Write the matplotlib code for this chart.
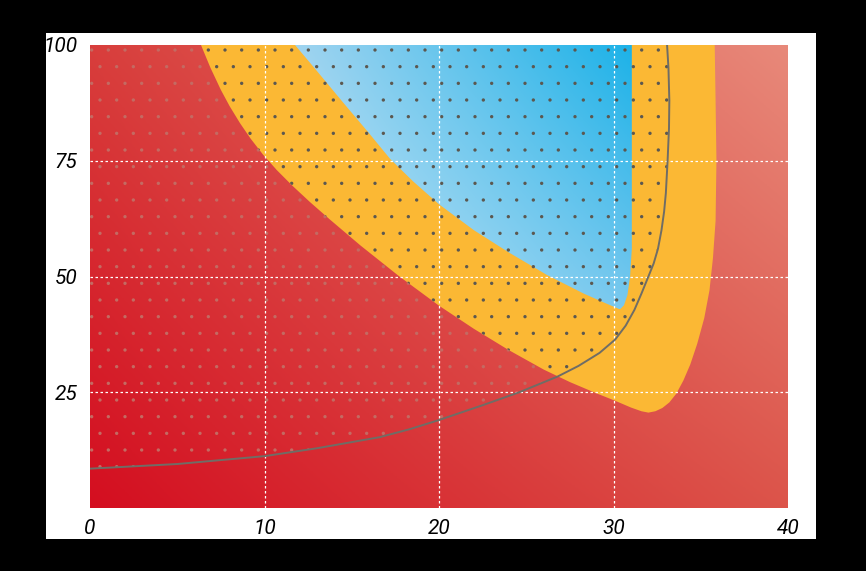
import numpy as np
import matplotlib
matplotlib.use('Agg')
import matplotlib.pyplot as plt
from matplotlib.patches import Polygon, Rectangle

# 黄色区域边界 (x, y)
yellow_x = [6.36, 6.9, 7.5, 8.0, 8.6, 9.2, 9.9, 10.7, 11.6, 12.6, 13.75, 15.5, 17.7, 20.0, 22.0,
            24.0, 26.0, 27.5, 29.0, 30.1, 31.0, 31.6, 32.0, 32.4, 32.8, 33.2, 33.6, 34.0, 34.4,
            34.8, 35.2, 35.5, 35.7, 35.85, 35.9, 35.85, 35.8]
yellow_y = [100, 95.1, 90.3, 86.8, 83.1, 79.8, 76.4, 73.0, 69.6, 66.1, 62.3, 56.7, 50.1, 43.7, 38.7,
            34.1, 29.9, 27.2, 24.8, 23.15, 21.7, 20.9, 20.6, 20.9, 21.6, 22.8, 24.7, 27.5, 31.0,
            35.5, 41.0, 47.0, 54.0, 62.0, 75.0, 88.0, 100]

# 蓝色区域边界
blue_x = [11.75, 13.0, 14.5, 16.0, 17.2, 18.5, 20.0, 22.0, 24.0, 26.2, 28.3, 29.5, 30.37,
          30.6, 30.8, 30.95, 31.05, 31.05]
blue_y = [100, 94.4, 87.6, 80.9, 75.4, 70.6, 65.6, 60.0, 55.2, 50.3, 46.3, 44.3, 42.9,
          43.8, 46.0, 50.0, 56.0, 100]

# 灰色曲线
curve_x = [0, 5, 10, 13, 16.6, 18.3, 20, 22.5, 24.6, 26.8, 28.0, 29.2, 30.1, 30.7, 31.2, 31.6,
           32.0, 32.3, 32.55, 32.75, 32.9, 33.0, 33.1, 33.18, 33.2, 33.15, 33.07]
curve_y = [8.5, 9.5, 11.2, 12.9, 15.3, 17.0, 19.0, 22.2, 25.0, 28.4, 30.7, 33.5, 36.4, 39.4, 42.8,
           46.3, 50.0, 52.8, 56.0, 60.0, 64.0, 68.0, 75.0, 82.0, 88.0, 95.0, 100]

xticks = [0, 10, 20, 30, 40]
yticks = [25, 50, 75, 100]

fig = plt.figure(figsize=(8.66, 5.71), dpi=100, facecolor='black')
fig.patches.append(Rectangle((46 / 866, 32 / 571), 770 / 866, 506 / 571,
                             transform=fig.transFigure, facecolor='white', edgecolor='none', zorder=-10))
ax = fig.add_axes([90 / 866, 63 / 571, 698 / 866, 463 / 571])


def gradient(bl, tl, br, tr, n=200):
    u = np.linspace(0, 1, n)[None, :, None]
    v = np.linspace(0, 1, n)[:, None, None]
    bl, tl, br, tr = [np.array(c, float)[None, None, :] / 255 for c in (bl, tl, br, tr)]
    img = (1 - u) * (1 - v) * bl + (1 - u) * v * tl + u * (1 - v) * br + u * v * tr
    return np.clip(img, 0, 1)


# 红色渐变背景
red = gradient((212, 14, 32), (216, 62, 60), (220, 84, 74), (232, 137, 122))
ax.imshow(red, extent=[0, 40, 0, 100], origin='lower', aspect='auto', zorder=1)

plt.rcParams['hatch.linewidth'] = 0.0
dot_xy = np.column_stack([curve_x + [0], curve_y + [100]])
# 红色区域里的浅色点
ax.add_patch(Polygon(dot_xy, closed=True, facecolor='none', edgecolor='#c46a62',
                     linewidth=0, hatch='.', zorder=1.5))

yellow = Polygon(np.column_stack([yellow_x, yellow_y]), closed=True,
                 facecolor='#fbb834', edgecolor='none', zorder=2)
ax.add_patch(yellow)

blue_poly = Polygon(np.column_stack([blue_x, blue_y]), closed=True,
                    facecolor='none', edgecolor='none', zorder=3)
ax.add_patch(blue_poly)
blue = gradient((205, 232, 247), (160, 212, 240), (120, 200, 238), (28, 178, 232))
im = ax.imshow(blue, extent=[min(blue_x), max(blue_x), min(blue_y), 100],
               origin='lower', aspect='auto', zorder=3)
im.set_clip_path(blue_poly)

# 黄色/蓝色区域里的深色点
dark = Polygon(dot_xy, closed=True, facecolor='none', edgecolor='#5c5850',
               linewidth=0, hatch='.', zorder=4)
ax.add_patch(dark)
dark.set_clip_path(yellow)

ax.plot(curve_x, curve_y, color='#6f6d66', lw=1.4, zorder=6)

ax.set_xlim(0, 40)
ax.set_ylim(0, 100)
ax.set_xticks(xticks)
ax.set_yticks(yticks)
for v in [10, 20, 30]:
    ax.axvline(v, color='white', lw=0.9, ls=(0, (2, 2)), zorder=5)
for v in [25, 50, 75]:
    ax.axhline(v, color='white', lw=0.9, ls=(0, (2, 2)), zorder=5)
for s in ax.spines.values():
    s.set_visible(False)
ax.tick_params(length=0, pad=8)
ax.tick_params(axis='y', pad=9)
for lab in ax.get_xticklabels() + ax.get_yticklabels():
    lab.set_fontfamily('Roboto')
    lab.set_fontstyle('italic')
    lab.set_fontsize(15)
    lab.set_color('black')

plt.savefig('out.png', dpi=100, facecolor='black')
